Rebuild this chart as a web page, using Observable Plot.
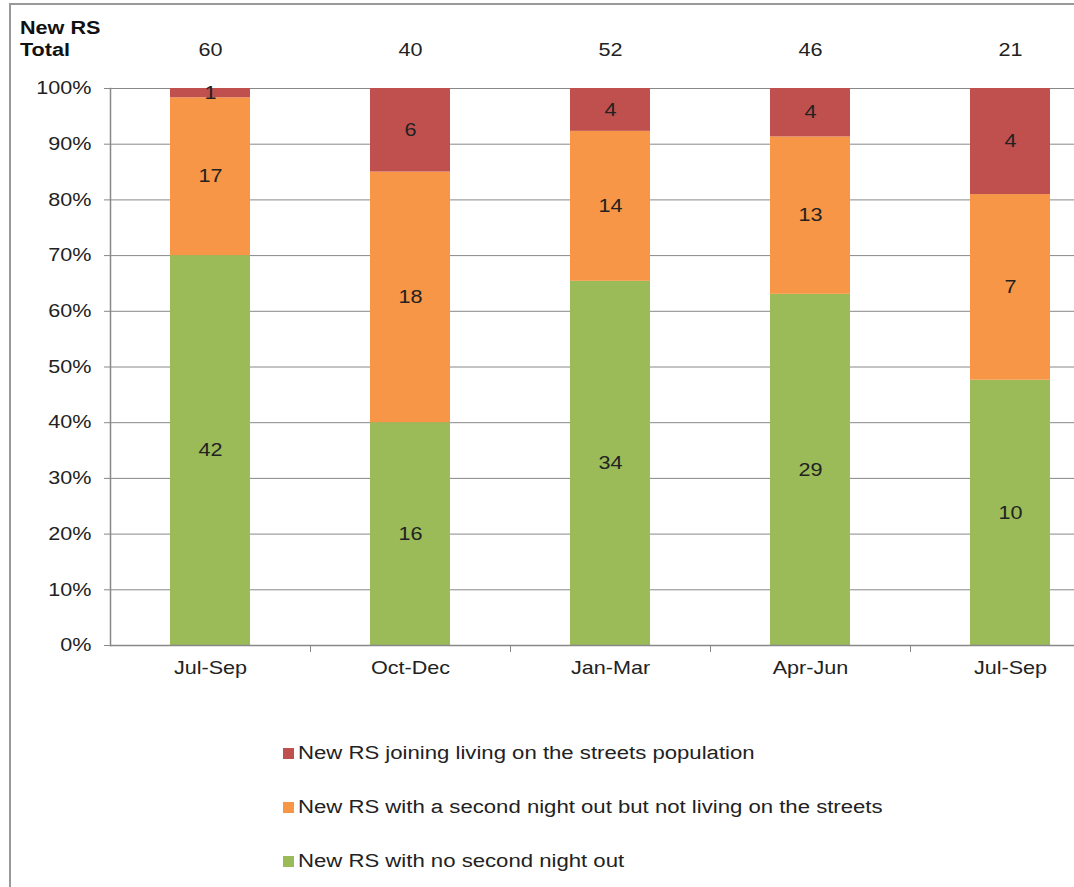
<!DOCTYPE html>
<html>
<head>
<meta charset="utf-8">
<script src="https://cdn.jsdelivr.net/npm/d3@7"></script>
<script src="https://cdn.jsdelivr.net/npm/@observablehq/plot@0.6"></script>
<style>
  html, body { margin: 0; padding: 0; background: #fff; }
  #wrap { position: relative; width: 1074px; height: 887px; overflow: hidden; font-family: "Liberation Sans", Arial, sans-serif; }
  #border { position: absolute; left: 9px; top: 3px; width: 1200px; height: 1000px; border: 2px solid #999; box-sizing: border-box; }
  #chart { position: absolute; left: 0; top: 0; }
  #ylab { position: absolute; left: 20px; top: 17px; font-weight: bold; font-size: 18px; line-height: 22px; color: #111; transform: scaleX(1.2); transform-origin: left center; }
  #legend { position: absolute; left: 283px; top: 740px; font-size: 18px; color: #222; }
  .item { position: absolute; white-space: nowrap; height: 26px; line-height: 26px; }
  .sw { display: inline-block; width: 11px; height: 11px; margin-right: 4px; vertical-align: 0px; }
  .lt { display: inline-block; transform: scaleX(1.23); transform-origin: left center; }
</style>
</head>
<body>
<div id="wrap">
  <div id="border"></div>
  <div id="chart"></div>
  <div id="ylab">New RS<br>Total</div>
  <div id="legend"></div>
</div>
<script>
const categories = ["Jul-Sep", "Oct-Dec", "Jan-Mar", "Apr-Jun", "Jul-Sep"];
const totals = [60, 40, 52, 46, 21];
const seriesNames = [
  "New RS with no second night out",
  "New RS with a second night out but not living on the streets",
  "New RS joining living on the streets population"
];
const noSecondNight = [42, 16, 34, 29, 10];
const secondNightNotLiving = [17, 18, 14, 13, 7];
const joiningStreets = [1, 6, 4, 4, 4];
const seriesColors = ["#9BBB59", "#F79646", "#C0504D"];
const yTicks = [0, 0.1, 0.2, 0.3, 0.4, 0.5, 0.6, 0.7, 0.8, 0.9, 1];

const seriesValues = [noSecondNight, secondNightNotLiving, joiningStreets];
const rows = [];
seriesValues.forEach((vals, s) => vals.forEach((v, i) => rows.push({idx: i, series: seriesNames[s], order: s, value: v})));
const idx = categories.map((_, i) => i);
const totalRows = totals.map((t, i) => ({idx: i, total: t}));

const stackOpts = {x: "idx", y: "value", order: null, offset: "normalize"};

const chart = Plot.plot({
  width: 1074,
  height: 700,
  marginTop: 88,
  marginBottom: 55,
  marginLeft: 110,
  marginRight: 0,
  style: {fontFamily: "Liberation Sans, Arial, sans-serif", fontSize: "18px", color: "#222", background: "transparent"},
  x: {domain: idx, range: [110, 1110], paddingInner: 0.6, paddingOuter: 0.3, label: null},
  y: {domain: [0, 1], label: null},
  color: {domain: seriesNames, range: seriesColors},
  marks: [
    Plot.gridY(yTicks, {stroke: "#888", strokeOpacity: 1, strokeWidth: 1}),
    Plot.barY(rows, Plot.stackY({...stackOpts, fill: "series", z: "series"})),
    Plot.text(rows, Plot.stackY({...stackOpts, z: "series", y: "value", text: "value", fill: "#222", fontSize: 18})),
    Plot.ruleY([0], {stroke: "#888", strokeWidth: 1.5}),
    Plot.frame({anchor: "left", stroke: "#888", strokeWidth: 1.5}),
    Plot.axisY(yTicks, {tickFormat: d => Math.round(d * 100) + "%", tickSize: 6, tickPadding: 13, stroke: "#888", fill: "#222", fontSize: 18}),
    Plot.axisX(idx.slice(0, 4), {tickSize: 7, dx: 100, tickFormat: () => "", stroke: "#888"}),
    Plot.axisX(idx, {tickSize: 0, tickPadding: 16, tickFormat: i => categories[i], fill: "#222", fontSize: 18}),
    Plot.text(totalRows, {x: "idx", text: "total", frameAnchor: "top", dy: -45, fill: "#222", fontSize: 18})
  ]
});
document.getElementById("chart").appendChild(chart);

// widen glyphs horizontally (the reference text is stretched), keeping each anchor fixed
const SX = 1.2;
chart.querySelectorAll("text").forEach(t => {
  const b = t.getBBox();
  if (!b.width) return;
  let anchor = t.getAttribute("text-anchor");
  let p = t.parentNode;
  while (!anchor && p && p.getAttribute) { anchor = p.getAttribute("text-anchor"); p = p.parentNode; }
  const cx = anchor === "end" ? b.x + b.width : anchor === "start" ? b.x : b.x + b.width / 2;
  const prev = t.getAttribute("transform") || "";
  t.setAttribute("transform", `${prev} translate(${cx},0) scale(${SX},1) translate(${-cx},0)`.trim());
});

const legend = document.getElementById("legend");
const legendOrder = [2, 1, 0];
legendOrder.forEach((s, k) => {
  const d = document.createElement("div");
  d.className = "item";
  d.style.top = (k * 54) + "px";
  d.innerHTML = `<span class="sw" style="background:${seriesColors[s]}"></span><span class="lt">${seriesNames[s]}</span>`;
  legend.appendChild(d);
});
</script>
</body>
</html>
